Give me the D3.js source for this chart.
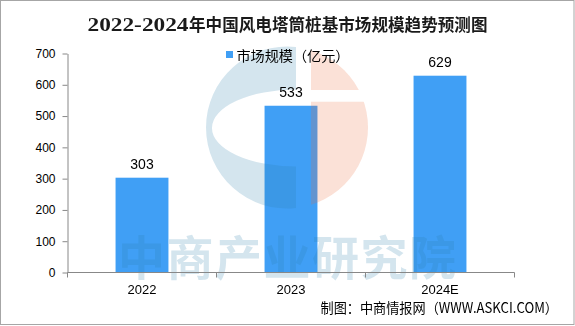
<!DOCTYPE html>
<html>
<head>
<meta charset="utf-8">
<script src="https://cdn.jsdelivr.net/npm/d3@7/dist/d3.min.js"></script>
<style>
  html, body { margin: 0; padding: 0; background: #fff; }
  svg { display: block; }
</style>
</head>
<body>
<script>
// ---- data ----
const categories = ["2022", "2023", "2024E"];
const values = [303, 533, 629];
const yTicks = [0, 100, 200, 300, 400, 500, 600, 700];
const titleYears = "2022-2024";
const titleText = "年中国风电塔筒桩基市场规模趋势预测图";
const seriesName = "市场规模（亿元）";
const sourceText = "制图：中商情报网（WWW.ASKCI.COM）";
const watermarkText = "中商产业研究院";

// ---- layout ----
const W = 575, H = 326;
const barColor = "#409ff5";
const axisColor = "#888888";
const cjk = "'Noto Sans CJK SC', 'Noto Sans', sans-serif";
const latin = "'Liberation Sans', Arial, sans-serif";

const svg = d3.select("body").append("svg")
  .attr("width", W).attr("height", H);

svg.append("rect").attr("x", 0).attr("y", 0).attr("width", W).attr("height", H).attr("fill", "#fff");
svg.append("rect").attr("x", 0.5).attr("y", 0.5).attr("width", W - 1.5).attr("height", H - 2)
  .attr("fill", "none").attr("stroke", "#a6a6a6").attr("stroke-width", 1);

const x = d3.scaleBand().domain(categories).range([67.5, 514.5])
  .paddingInner(0.645).paddingOuter(0.3225);
const y = d3.scaleLinear().domain([0, 700]).range([272.5, 53.5]);

// bars
svg.append("g").selectAll("rect").data(values).join("rect")
  .attr("x", (d, i) => x(categories[i]))
  .attr("y", d => y(d))
  .attr("width", x.bandwidth())
  .attr("height", d => y(0) - y(d))
  .attr("fill", barColor);

// watermark (drawn over bars, translucent)
const wm = svg.append("g").attr("opacity", 0.2);
const cx = 287, cy = 127.5, R = 81;
wm.append("path")
  .attr("d", `M296,47 A${R},${R} 0 1 0 296,208 L296,166.5 A84,38.5 0 1 1 296,89.5 Z`)
  .attr("fill", "rgb(44,127,171)");
const defs = svg.append("defs");
const cp = defs.append("clipPath").attr("id", "peachClip");
cp.append("rect").attr("x", 311).attr("y", 40).attr("width", 100).attr("height", 50);
cp.append("rect").attr("x", 311).attr("y", 101.7).attr("width", 100).attr("height", 120);
wm.append("circle").attr("cx", cx).attr("cy", cy).attr("r", R)
  .attr("fill", "rgb(235,105,55)").attr("clip-path", "url(#peachClip)");
wm.append("text").attr("x", 118).attr("y", 274.5)
  .attr("font-family", cjk).attr("font-weight", "bold").attr("font-size", 47)
  .attr("textLength", 338).attr("lengthAdjust", "spacing")
  .attr("fill", "rgb(44,127,171)").text(watermarkText);

// y axis
const yAxis = svg.append("g").attr("transform", "translate(67.5,0)")
  .call(d3.axisLeft(y).tickValues(yTicks).tickSize(5).tickPadding(7).tickSizeOuter(0));
yAxis.select(".domain").attr("stroke", axisColor);
yAxis.selectAll(".tick line").attr("stroke", axisColor);
yAxis.selectAll(".tick text").attr("font-family", latin).attr("font-size", 12).attr("fill", "#000");

// x axis
const xg = svg.append("g");
xg.append("line").attr("x1", x.range()[0]).attr("x2", x.range()[1])
  .attr("y1", y(0)).attr("y2", y(0)).attr("stroke", axisColor);
const bounds = d3.range(categories.length + 1).map(i => x.range()[0] + i * x.step());
xg.selectAll("line.tk").data(bounds).join("line").attr("class", "tk")
  .attr("x1", d => d).attr("x2", d => d)
  .attr("y1", y(0)).attr("y2", y(0) + 5).attr("stroke", axisColor);
xg.selectAll("text").data(categories).join("text")
  .attr("x", d => x(d) + x.bandwidth() / 2).attr("y", 293.5)
  .attr("text-anchor", "middle").attr("font-family", latin).attr("font-size", 13)
  .attr("fill", "#000").text(d => d);

// value labels
svg.append("g").selectAll("text").data(values).join("text")
  .attr("x", (d, i) => x(categories[i]) + x.bandwidth() / 2)
  .attr("y", d => y(d) - 9)
  .attr("text-anchor", "middle").attr("font-family", latin).attr("font-size", 14)
  .attr("fill", "#000").text(d => d);

// title
svg.append("text").attr("x", 87.5).attr("y", 31)
  .attr("font-family", "'Liberation Serif', 'DejaVu Serif', serif").attr("font-weight", "bold")
  .attr("font-size", 18).attr("textLength", 101).attr("lengthAdjust", "spacingAndGlyphs")
  .attr("fill", "#1a1a1a").text(titleYears);
svg.append("text").attr("x", 189).attr("y", 31)
  .attr("font-family", cjk).attr("font-weight", "bold")
  .attr("font-size", 16.6).attr("textLength", 298.5).attr("lengthAdjust", "spacingAndGlyphs")
  .attr("fill", "#1a1a1a").text(titleText);

// legend
svg.append("rect").attr("x", 226).attr("y", 51).attr("width", 7).attr("height", 7).attr("fill", barColor);
svg.append("text").attr("x", 236.5).attr("y", 60.5)
  .attr("font-family", cjk).attr("font-size", 14).attr("fill", "#000")
  .attr("textLength", 113).attr("lengthAdjust", "spacingAndGlyphs").text(seriesName);

// source
svg.append("text").attr("x", 320.5).attr("y", 312.5)
  .attr("font-family", cjk).attr("font-size", 14).attr("fill", "#000")
  .attr("textLength", 237.5).attr("lengthAdjust", "spacingAndGlyphs").text(sourceText);
</script>
</body>
</html>
